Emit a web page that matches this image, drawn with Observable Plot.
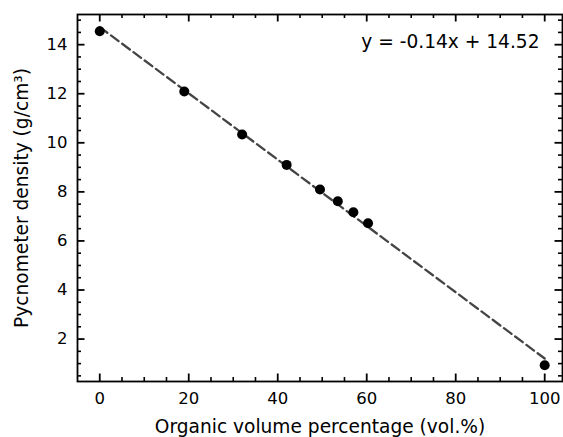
<!DOCTYPE html>
<html>
<head>
<meta charset="utf-8">
<script src="https://cdn.jsdelivr.net/npm/d3@7"></script>
<script src="https://cdn.jsdelivr.net/npm/@observablehq/plot@0.6"></script>
<style>
  html, body { margin: 0; padding: 0; background: #fff; }
  svg { display: block; }
</style>
</head>
<body>
<div id="chart"></div>
<script>
const organicVol = [0, 19, 32, 42, 49.5, 53.5, 57, 60.3, 100];
const density = [14.55, 12.09, 10.34, 9.1, 8.1, 7.62, 7.17, 6.72, 0.93];
const xMajor = [0, 20, 40, 60, 80, 100];
const yMajor = [2, 4, 6, 8, 10, 12, 14];
const xMinor = [5, 10, 15, 25, 30, 35, 45, 50, 55, 65, 70, 75, 85, 90, 95];
const yMinor = [0.5, 1, 1.5, 2.5, 3, 3.5, 4.5, 5, 5.5, 6.5, 7, 7.5, 8.5, 9, 9.5, 10.5, 11, 11.5, 12.5, 13, 13.5, 14.5, 15];
const equation = "y = -0.14x + 14.52";
const xLabel = "Organic volume percentage (vol.%)";
const yLabel = "Pycnometer density (g/cm³)";

const data = organicVol.map((x, i) => ({x, y: density[i]}));
const font = "DejaVu Sans, sans-serif";

const W = 563, H = 437, mL = 77, mR = 1, mT = 14, mB = 56;
const fw = W - mL - mR, fh = H - mT - mB;
const majLen = 7.5, minLen = 4;

const chart = Plot.plot({
  width: W,
  height: H,
  marginLeft: mL,
  marginRight: mR,
  marginTop: mT,
  marginBottom: mB,
  style: {fontFamily: font, fontSize: "16.5px", color: "#000", background: "#fff"},
  x: {domain: [-5, 104], label: null},
  y: {domain: [0.27, 15.23], label: null},
  marks: [
    // tick labels
    Plot.axisX({ticks: xMajor, tickSize: 0, tickPadding: 11, label: null, fontSize: 16.5}),
    Plot.axisY({ticks: yMajor, tickSize: 0, tickPadding: 10, label: null, fontSize: 16.5}),
    // inward ticks on all four sides
    Plot.tickX(xMajor, {x: d => d, insetTop: fh - majLen, stroke: "#000", strokeWidth: 1.8}),
    Plot.tickX(xMajor, {x: d => d, insetBottom: fh - majLen, stroke: "#000", strokeWidth: 1.8}),
    Plot.tickX(xMinor, {x: d => d, insetTop: fh - minLen, stroke: "#000", strokeWidth: 1.6}),
    Plot.tickX(xMinor, {x: d => d, insetBottom: fh - minLen, stroke: "#000", strokeWidth: 1.6}),
    Plot.tickY(yMajor, {y: d => d, insetRight: fw - majLen, stroke: "#000", strokeWidth: 1.8}),
    Plot.tickY(yMajor, {y: d => d, insetLeft: fw - majLen, stroke: "#000", strokeWidth: 1.8}),
    Plot.tickY(yMinor, {y: d => d, insetRight: fw - minLen, stroke: "#000", strokeWidth: 1.6}),
    Plot.tickY(yMinor, {y: d => d, insetLeft: fw - minLen, stroke: "#000", strokeWidth: 1.6}),
    Plot.frame({stroke: "#000", strokeWidth: 1.8}),
    Plot.linearRegressionY(data, {x: "x", y: "y", ci: 0, stroke: "#444", strokeWidth: 2.3, strokeDasharray: "9.5,4.5"}),
    Plot.dot(data, {x: "x", y: "y", r: 5, fill: "#000", stroke: "none"}),
    Plot.text([equation], {text: d => d, frameAnchor: "top-right", textAnchor: "end", lineAnchor: "middle", dx: -23, dy: 28, fontSize: 18.6, fill: "#000"}),
    Plot.text([xLabel], {text: d => d, frameAnchor: "bottom", textAnchor: "middle", lineAnchor: "middle", dy: 46, fontSize: 18.6, fill: "#000"}),
    Plot.text([yLabel], {text: d => d, frameAnchor: "left", textAnchor: "middle", rotate: -90, lineAnchor: "middle", dx: -55, fontSize: 18.6, fill: "#000"})
  ]
});
document.getElementById("chart").appendChild(chart);
</script>
</body>
</html>
